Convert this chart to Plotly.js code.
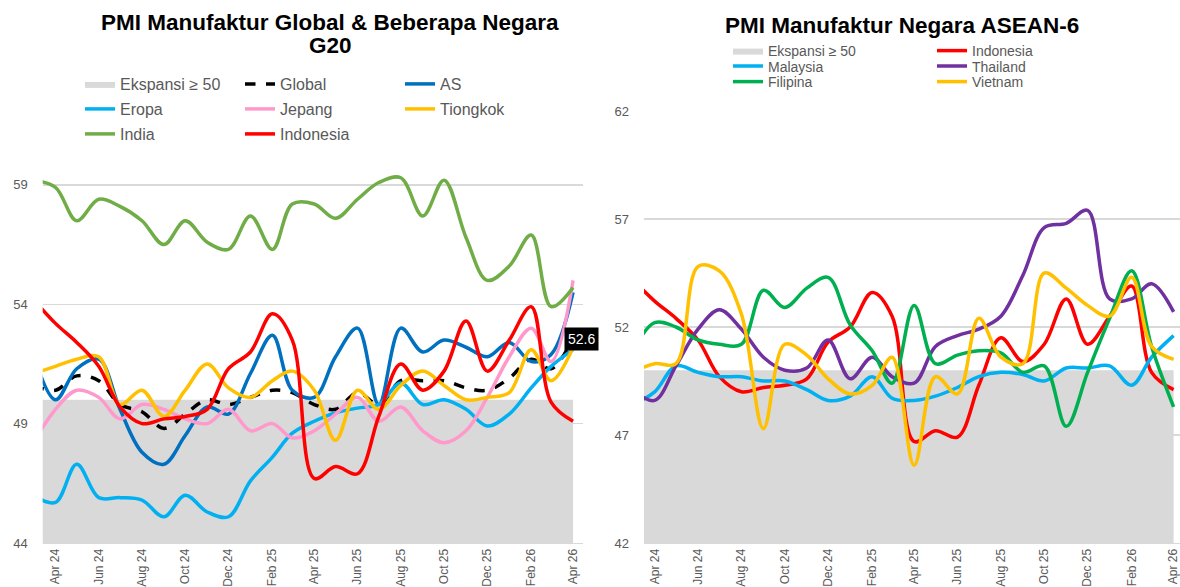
<!DOCTYPE html>
<html>
<head>
<meta charset="utf-8">
<script src="https://cdn.plot.ly/plotly-3.0.1.min.js"></script>
<style>
html,body{margin:0;padding:0;background:#fff;}
#chart{width:1180px;height:587px;}
</style>
</head>
<body>
<div id="chart"></div>
<script>
// Months (first one is only partly visible at the left edge)
var months = ['2024-03-01','2024-04-01','2024-05-01','2024-06-01','2024-07-01','2024-08-01','2024-09-01',
  '2024-10-01','2024-11-01','2024-12-01','2025-01-01','2025-02-01','2025-03-01','2025-04-01','2025-05-01',
  '2025-06-01','2025-07-01','2025-08-01','2025-09-01','2025-10-01','2025-11-01','2025-12-01','2026-01-01',
  '2026-02-01','2026-03-01','2026-04-01'];

// Shaded band (value of the "Ekspansi ≥ 50" area series)
var ekspansi = [50,50,50,50,50,50,50,50,50,50,50,50,50,50,50,50,50,50,50,50,50,50,50,50,50,50];

// Left chart: Global & G20
var globalPMI = [50.6,50.4,51.0,50.8,49.8,49.5,48.8,49.4,50.0,49.8,50.1,50.4,50.3,49.8,49.6,50.3,49.8,50.8,50.8,50.8,50.5,50.4,50.9,51.7,51.3,52.6];
var as        = [51.9,50.0,51.3,51.7,49.6,47.8,47.3,48.5,49.7,49.4,51.1,52.7,50.4,50.1,51.8,53.0,49.8,53.0,52.0,52.5,52.2,51.8,52.4,51.6,51.9,54.5];
var eropa     = [46.0,45.7,47.3,45.9,45.9,45.8,45.1,46.0,45.3,45.1,46.6,47.6,48.6,49.1,49.45,49.65,49.8,50.7,49.8,50.0,49.6,48.9,49.4,50.5,51.4,52.1];
var jepang    = [48.2,49.6,50.4,50.1,49.2,49.8,49.6,49.2,49.0,49.6,48.7,49.0,48.4,48.7,49.4,50.1,49.1,49.7,48.7,48.2,48.7,50.1,51.8,53.0,51.6,55.0];
var tiongkok  = [51.1,51.4,51.7,51.8,49.8,50.4,49.3,50.4,51.5,50.5,50.1,50.8,51.2,50.4,48.3,50.4,49.6,50.6,51.2,50.6,50.0,50.1,50.3,52.1,50.8,52.2];
var india     = [59.2,58.9,57.5,58.4,58.1,57.5,56.5,57.5,56.6,56.3,57.7,56.3,58.2,58.2,57.6,58.4,59.1,59.3,57.7,59.2,56.8,55.0,55.6,56.9,53.9,54.7];
var indonesia = [54.2,53.2,52.4,51.4,49.7,49.0,49.2,49.3,49.6,51.3,52.0,53.6,52.5,46.7,47.2,46.9,49.3,51.5,50.4,51.2,53.3,51.2,52.5,53.9,49.9,49.1];

// Right chart: ASEAN-6
var malaysia  = [48.4,49.0,50.2,49.9,49.7,49.7,49.5,49.5,49.1,48.6,48.8,49.7,48.7,48.6,48.8,49.2,49.7,49.9,49.8,49.5,50.1,50.1,50.2,49.3,50.6,51.6];
var thailand  = [49.1,48.6,50.2,51.9,52.8,51.9,50.6,50.0,50.1,51.4,49.6,50.6,49.7,49.4,51.1,51.6,51.9,52.5,54.4,56.6,56.8,57.4,53.3,53.3,54.0,52.7];
var filipina  = [50.9,52.2,52.0,51.4,51.2,51.2,53.7,52.9,53.8,54.3,52.1,50.9,49.4,53.0,50.3,50.7,50.9,50.8,49.9,50.2,47.4,49.9,52.4,54.6,51.1,48.3];
var vietnam   = [49.9,50.3,50.3,54.8,54.6,52.6,47.3,51.2,50.7,49.6,48.9,49.3,50.6,45.6,49.7,48.9,52.4,50.6,50.3,54.5,53.8,53.0,52.5,54.3,51.1,50.5];

var FONT = 'Liberation Sans, Arial, sans-serif';
var GREY = '#595959';
var LW = 3.5;

function line(name, y, color, xa, ya, leg, dash) {
  return {type:'scatter', mode:'lines', name:name, x:months, y:y, xaxis:xa, yaxis:ya, legend:leg,
    line:{color:color, width:LW, shape:'spline', smoothing:1, dash:dash||'solid'}, hoverinfo:'skip'};
}
function band(xa, ya, leg) {
  return {type:'scatter', mode:'lines', name:'Ekspansi \u2265 50', x:months, y:ekspansi, xaxis:xa, yaxis:ya,
    legend:leg, fill:'tozeroy', fillcolor:'#D9D9D9', line:{width:0, color:'#D9D9D9'}, hoverinfo:'skip'};
}

var data = [
  band('x','y','legend'),
  line('Global', globalPMI, '#000000', 'x','y','legend','dash'),
  line('AS', as, '#0070C0', 'x','y','legend'),
  line('Eropa', eropa, '#00B0F0', 'x','y','legend2'),
  line('Jepang', jepang, '#FF99CC', 'x','y','legend2'),
  line('Tiongkok', tiongkok, '#FFC000', 'x','y','legend2'),
  line('India', india, '#70AD47', 'x','y','legend3'),
  line('Indonesia', indonesia, '#FF0000', 'x','y','legend3'),

  band('x2','y2','legend4'),
  line('Indonesia', indonesia, '#FF0000', 'x2','y2','legend4'),
  line('Malaysia', malaysia, '#00B0F0', 'x2','y2','legend5'),
  line('Thailand', thailand, '#7030A0', 'x2','y2','legend5'),
  line('Filipina', filipina, '#00B050', 'x2','y2','legend6'),
  line('Vietnam', vietnam, '#FFC000', 'x2','y2','legend6')
];

var W = 1180, H = 587;
function px(x){return x/W;}
function py(y){return (H-y)/H;}

function xaxisDef(domain, range) {
  return {domain:domain, range:range, type:'date', tickformat:'%b %y', tick0:'2024-04-01', dtick:'M2',
    tickangle:-90, showgrid:false, zeroline:false, showline:true, linecolor:'#D9D9D9', linewidth:1,
    ticks:'', ticklabeloverflow:'allow', tickfont:{family:FONT, size:12, color:GREY}, fixedrange:true};
}
function yaxisDef(domain, range, t0, anchor) {
  return {domain:domain, range:range, tick0:t0, dtick:5, showgrid:true, gridcolor:'#D9D9D9', gridwidth:1.3,
    zeroline:false, showline:false, ticks:'', tickfont:{family:FONT, size:13, color:GREY},
    ticklabelstandoff:14, anchor:anchor, fixedrange:true};
}
function legendDef(x, y, ew, size) {
  return {orientation:'h', x:x, y:y, xanchor:'left', yanchor:'middle', bgcolor:'rgba(0,0,0,0)',
    borderwidth:0, font:{family:FONT, size:size, color:GREY}, entrywidth:ew, entrywidthmode:'pixels',
    itemwidth:30, traceorder:'normal', tracegroupgap:0, itemclick:false, itemdoubleclick:false};
}

var layout = {
  width:W, height:H, paper_bgcolor:'#fff', plot_bgcolor:'#fff',
  margin:{l:0, r:0, t:0, b:0},
  showlegend:true,
  xaxis: xaxisDef([px(42.7), px(583)], ['2024-03-14','2026-04-15']),
  yaxis: yaxisDef([py(543), py(113.3)], [44, 62], 44, 'x'),
  xaxis2: xaxisDef([px(644), 1], ['2024-03-17','2026-04-10']),
  yaxis2: yaxisDef([py(543), py(111)], [42, 62], 42, 'x2'),
  legend:  legendDef(px(80), py(84), 115, 16),
  legend2: legendDef(px(80), py(109), 115, 16),
  legend3: legendDef(px(80), py(134), 115, 16),
  legend4: legendDef(px(728), py(51), 159, 14),
  legend5: legendDef(px(728), py(66.5), 159, 14),
  legend6: legendDef(px(728), py(82), 159, 14),
  annotations: [
    {xref:'paper', yref:'paper', x:px(330), y:py(22), xanchor:'center', yanchor:'middle', showarrow:false,
      text:'<b>PMI Manufaktur Global & Beberapa Negara</b>', font:{family:FONT, size:22.5, color:'#000'}},
    {xref:'paper', yref:'paper', x:px(330), y:py(46), xanchor:'center', yanchor:'middle', showarrow:false,
      text:'<b>G20</b>', font:{family:FONT, size:22.5, color:'#000'}},
    {xref:'paper', yref:'paper', x:px(902), y:py(25), xanchor:'center', yanchor:'middle', showarrow:false,
      text:'<b>PMI Manufaktur Negara ASEAN-6</b>', font:{family:FONT, size:22.5, color:'#000'}},
    {xref:'x', yref:'y', x:months[months.length-1], y:globalPMI[globalPMI.length-1], xanchor:'left', yanchor:'middle',
      xshift:-9, yshift:-1, showarrow:false, text:globalPMI[globalPMI.length-1].toFixed(1), bgcolor:'#000',
      borderpad:3, font:{family:FONT, size:14, color:'#fff'}}
  ]
};

Plotly.newPlot('chart', data, layout, {displayModeBar:false, staticPlot:true});
</script>
</body>
</html>
